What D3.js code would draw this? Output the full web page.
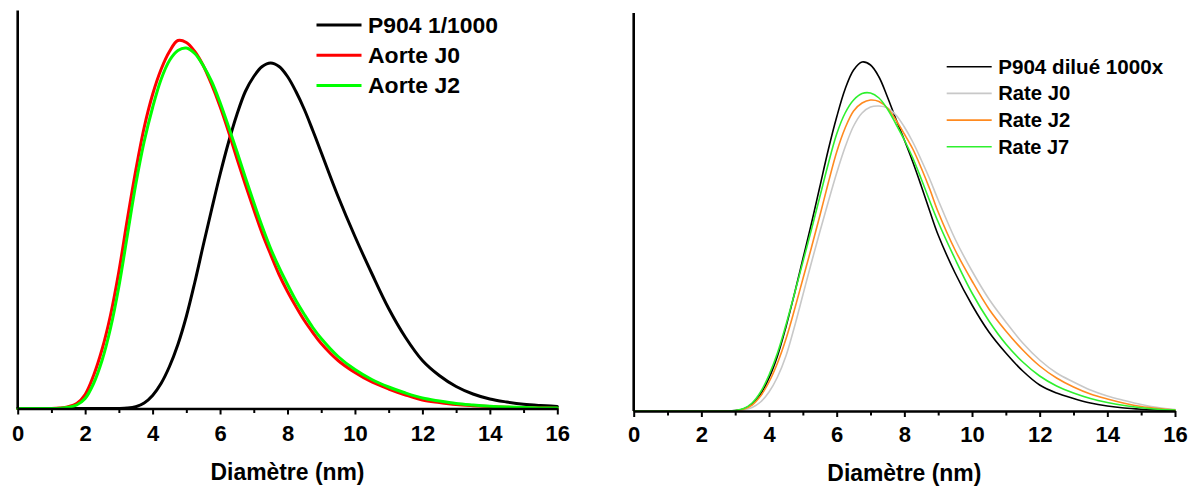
<!DOCTYPE html>
<html><head><meta charset="utf-8">
<script src="https://cdn.jsdelivr.net/npm/d3@7"></script>
<style>
html,body{margin:0;padding:0;background:#fff;}
svg{display:block;}
text{font-family:"Liberation Sans",Arial,sans-serif;font-weight:bold;fill:#000;}
</style></head>
<body>
<svg id="chart" width="1197" height="490"></svg>
<script>
// ---- data (intensity in arbitrary units) ----
const diameters = [0,0.25,0.5,0.75,1,1.25,1.5,1.75,2,2.25,2.5,2.75,3,3.25,3.5,3.75,4,4.25,4.5,4.75,5,5.25,5.5,5.75,6,6.25,6.5,6.75,7,7.25,7.5,7.75,8,8.25,8.5,8.75,9,9.5,10,10.5,11,11.5,12,12.5,13,13.5,14,14.5,15,15.5,16];
const xTicks = [0,2,4,6,8,10,12,14,16];
const xMinorTicks = [1,3,5,7,9,11,13,15];

// Left panel
const leftNames = ["P904 1/1000","Aorte J0","Aorte J2"];
const leftP904 = [0,0,0,0,0,0,0,0,0,0,0,0,0,0.4,1.8,5.5,13,25,42,64,92,126,163,199,234,266,294,317,332,342,345.5,342,332,317,299,278,256,212,172,135,100,71,48,33,22,14.5,9.5,6.5,4.2,2.9,2];
const leftAorteJ0 = [0,0,0,0,0,0.5,1.8,5,14,33,59,93,137,189,238,281,314,339,357,368,366,357,343,324,302,277,250,224,199,175,154,134,117,102,88,76,65,48,36,26.5,19.5,13.5,8.5,6,4,2.8,1.9,1.3,0.8,0.5,0.3];
const leftAorteJ2 = [0,0,0,0,0,0.3,1.2,3.5,10,25,48,80,122,173,224,267,301,329,348,358,360.5,355,343,327,306,282,257,231,206,182,160,141,124,108,94,81,70,52,39,29,21.5,15.5,10.5,7.5,5,3.5,2.3,1.5,1,0.6,0.4];

// Right panel
const rightNames = ["P904 dilué 1000x","Rate J0","Rate J2","Rate J7"];
const rightP904 = [0,0,0,0,0,0,0,0,0,0,0,0,0.5,2,7,17,33,55,84,117,152,187,224,261,294,322,341,349,346,334,314,292,271,249,225,200,176,138,106,79,58,40,26,18,12.5,8,5,3,1.8,1,0.5];
const rightRateJ0 = [0,0,0,0,0,0,0,0,0,0,0,0,0,1,3.5,9,19,34,55,84,116,148,179,209,238,264,285,298,304,305,303,296,284,269,251,232,211,172,140,112,89,68,51,38,29,21,15,10.5,6.5,3.5,1.5];
const rightRateJ2 = [0,0,0,0,0,0,0,0,0,0,0,0,0.3,1.8,6,15,29,48,72,101,132,163,195,228,259,283,300,308,311,309.5,303,291,277,262,243,222,199,161,130,102,80,61,45,33,24,17,12,7.8,4.5,2.5,1];
const rightRateJ7 = [0,0,0,0,0,0,0,0,0,0,0,0,0.5,2.5,8,19,36,58,86,117,149,181,214,247,277,298,311,317.5,318,313,302,287,271,253,232,210,189,152,118,90,67,49,35,25,18,12.5,8.5,5.5,3.2,1.8,1];

const xTitle = "Diamètre (nm)";

// ---- drawing ----
const svg = d3.select("#chart");

function panel(cfg){
  const g = svg.append("g");
  const x = d3.scaleLinear().domain([0,16]).range([cfg.x0, cfg.x1]);
  const y = d3.scaleLinear().domain([0,398]).range([cfg.yBase, cfg.yTop]);

  // curves
  const line = d3.line().x((d,i)=>x(diameters[i])).y(d=>y(d)).curve(d3.curveCatmullRom.alpha(0.5));
  cfg.series.forEach(s=>{
    g.append("path").datum(s.values).attr("d", line)
      .attr("fill","none").attr("stroke", s.color).attr("stroke-width", cfg.lw)
      .attr("stroke-linejoin","round").attr("stroke-linecap","round");
  });

  // y axis (line only)
  g.append("line").attr("x1",cfg.x0).attr("x2",cfg.x0).attr("y1",y(398)).attr("y2",cfg.yBase)
    .attr("stroke","#000").attr("stroke-width",2.6);

  // minor ticks
  const minor = g.append("g").attr("transform",`translate(0,${cfg.yBase})`)
    .call(d3.axisBottom(x).tickValues(xMinorTicks).tickSize(4.5).tickFormat(""));
  minor.select(".domain").remove();
  minor.selectAll(".tick line").attr("stroke","#000").attr("stroke-width",2);

  // major ticks
  const major = g.append("g").attr("transform",`translate(0,${cfg.yBase})`)
    .call(d3.axisBottom(x).tickValues(xTicks).tickSize(6).tickSizeOuter(0).tickFormat(d3.format("d")));
  major.select(".domain").attr("stroke","#000").attr("stroke-width",2.6);
  major.selectAll(".tick line").attr("stroke","#000").attr("stroke-width",2);
  major.selectAll(".tick text").attr("y", cfg.tickBaseline).attr("dy",0)
    .style("font-size","22px").style("font-family",'"Liberation Sans",Arial,sans-serif')
    .style("font-weight","bold").attr("fill","#000");
  major.attr("font-size",null).attr("font-family",null);

  // axis title
  g.append("text").attr("x",(cfg.x0+cfg.x1)/2).attr("y",cfg.titleY)
    .attr("text-anchor","middle").style("font-size","23px")
    .attr("textLength",154).attr("lengthAdjust","spacingAndGlyphs").text(xTitle);

  // legend
  cfg.series.forEach((s,i)=>{
    const ly = cfg.legY + i*cfg.legStep;
    g.append("line").attr("x1",cfg.legX).attr("x2",cfg.legX+cfg.legLen).attr("y1",ly).attr("y2",ly)
      .attr("stroke",s.color).attr("stroke-width",cfg.lw);
    g.append("text").attr("x",cfg.legX+cfg.legLen+cfg.legGap).attr("y",ly+cfg.legDy)
      .style("font-size",cfg.legFont+"px")
      .attr("textLength",s.tw).attr("lengthAdjust","spacingAndGlyphs").text(s.name);
  });
}

panel({
  x0:17.7, x1:557.3, yBase:408.5, yTop:10.5, lw:3, tickBaseline:32.5, titleY:480,
  legX:316.5, legLen:45, legGap:6.5, legY:25, legStep:30.3, legDy:7.8, legFont:22.5,
  series:[
    {name:leftNames[0], values:leftP904, color:"#000000", tw:130},
    {name:leftNames[1], values:leftAorteJ0, color:"#ff0000", tw:92},
    {name:leftNames[2], values:leftAorteJ2, color:"#00ff00", tw:92}
  ]
});

panel({
  x0:633.7, x1:1175, yBase:411, yTop:13, lw:1.6, tickBaseline:31, titleY:481,
  legX:946.7, legLen:45, legGap:6.5, legY:66.7, legStep:26.7, legDy:7, legFont:20.5,
  series:[
    {name:rightNames[0], values:rightP904, color:"#000000", tw:165},
    {name:rightNames[1], values:rightRateJ0, color:"#c8c8c8", tw:72},
    {name:rightNames[2], values:rightRateJ2, color:"#ff8a1f", tw:72},
    {name:rightNames[3], values:rightRateJ7, color:"#2ef02e", tw:71}
  ]
});
</script>
</body></html>
